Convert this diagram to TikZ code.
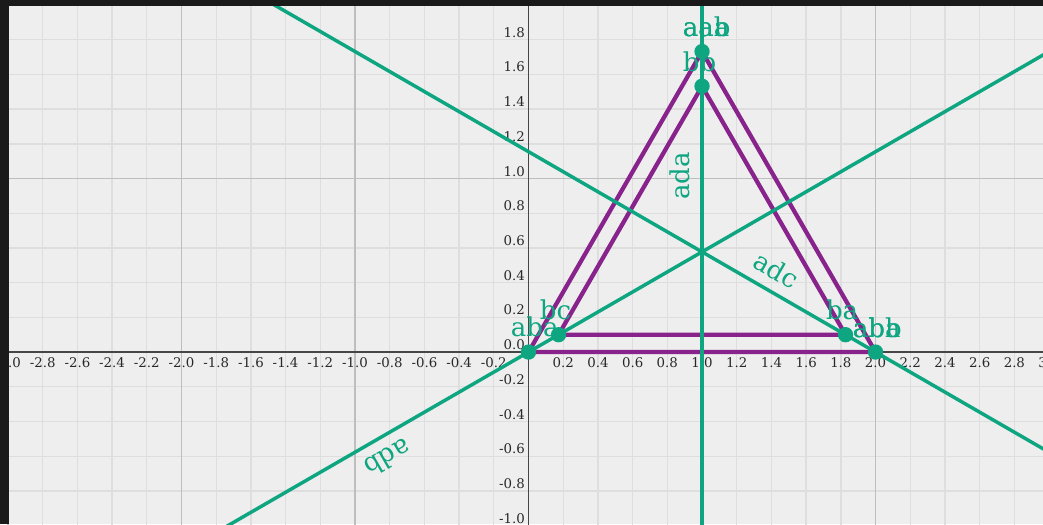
\documentclass[tikz,border=0pt]{standalone}
\usepackage{fontspec}
\setmainfont{DejaVu Serif}
\usetikzlibrary{calc}
\definecolor{bg}{RGB}{238,238,238}
\definecolor{minorgrid}{RGB}{222,222,222}
\definecolor{majorgrid}{RGB}{190,190,190}
\definecolor{axiscol}{RGB}{70,70,70}
\definecolor{gr}{RGB}{14,166,128}
\definecolor{pu}{RGB}{137,35,140}
\definecolor{framecol}{RGB}{26,26,26}
\definecolor{ticktxt}{RGB}{40,40,40}
\begin{document}
\begin{tikzpicture}[x=130.125pt,y=130.125pt,
  ticklab/.style={font=\fontsize{10}{12}\selectfont, text=ticktxt, inner sep=0pt},
  lab/.style={font=\fontsize{19.5}{21}\selectfont, text=gr, inner sep=0pt},
  seg/.style={draw=pu, line width=3.2pt, line cap=round, line join=round},
  gline/.style={draw=gr, line width=2.6pt},
  pt/.style={circle, fill=gr, inner sep=0pt, minimum size=11.5pt},
]
\useasboundingbox (-3.046,-0.991) rectangle (2.965,2.029);
\begin{scope}
\clip (-3.046,-0.991) rectangle (2.965,2.029);
\fill[bg] (-3.046,-0.991) rectangle (2.965,2.029);
% minor grid
\foreach \i in {-16,...,15} \draw[minorgrid, line width=1pt] (\i/5,-1.1) -- (\i/5,2.1);
\foreach \j in {-5,...,10} \draw[minorgrid, line width=1pt] (-3.1,\j/5) -- (3.1,\j/5);
% major grid
\foreach \i in {-3,...,3} \draw[majorgrid, line width=1.1pt] (\i,-1.1) -- (\i,2.1);
\foreach \j in {-1,...,2} \draw[majorgrid, line width=1.1pt] (-3.1,\j) -- (3.1,\j);
% axes
\draw[axiscol, line width=1.1pt] (-3.1,0) -- (3.1,0);
\draw[axiscol, line width=1pt] (0,-1.1) -- (0,2.1);
% x tick labels
\foreach \v in {-3.0,-2.8,-2.6,-2.4,-2.2,-2.0,-1.8,-1.6,-1.4,-1.2,-1.0,-0.8,-0.6,-0.4,-0.2,0.2,0.4,0.6,0.8,1.0,1.2,1.4,1.6,1.8,2.0,2.2,2.4,2.6,2.8,3.0}
  \node[ticklab] at (\v,-0.06) {\v};
% y tick labels
\foreach \v in {-1.0,-0.8,-0.6,-0.4,-0.2,0.0,0.2,0.4,0.6,0.8,1.0,1.2,1.4,1.6,1.8}
  \node[ticklab, anchor=east] at (-0.02,\v+0.042) {\v};

% geometry
\coordinate (A) at (0,0);
\coordinate (B) at (2,0);
\coordinate (C) at (1,1.7320508);
\coordinate (G) at (1,0.5773503);
\coordinate (D) at (0.1732051,0.1);
\coordinate (E) at (1.8267949,0.1);
\coordinate (F) at (1,1.5320508);

% purple triangles
\draw[seg] (A) -- (B) -- (C) -- cycle;
\draw[seg] (D) -- (E) -- (F) -- cycle;

% green lines (bisectors)
\draw[gline] ($(G)!-8!(C)$) -- ($(G)!8!(C)$);
\draw[gline] ($(G)!-8!(A)$) -- ($(G)!8!(A)$);
\draw[gline] ($(G)!-8!(B)$) -- ($(G)!8!(B)$);

% line labels
\node[lab, rotate=90] (lada) at (0.873,1.014) {ada};
\node[lab, rotate=-30] (ladc) at (1.428,0.472) {adc};
\node[lab, rotate=210] (ladb) at (-0.810,-0.611) {adb};

% points
\node[pt] (pA) at (A) {};
\node[pt] (pB) at (B) {};
\node[pt] (pC) at (C) {};
\node[pt] (pD) at (D) {};
\node[pt] (pE) at (E) {};
\node[pt] (pF) at (F) {};

% point labels
\node[lab, anchor=base west] (lC1) at (0.888,1.819) {aaa};
\node[lab, anchor=base west] (lC2) at (0.888,1.819) {aab};
\node[lab, anchor=base west] (lF) at (0.888,1.617) {bb};
\node[lab, anchor=base west] (lA) at (-0.103,0.090) {aba};
\node[lab, anchor=base west] (lD) at (0.064,0.186) {bc};
\node[lab, anchor=base west] (lE) at (1.713,0.190) {ba};
\node[lab, anchor=base west] (lB1) at (1.868,0.086) {aba};
\node[lab, anchor=base west] (lB2) at (1.868,0.086) {abb};
\end{scope}
% dark frame
\fill[framecol] (-3.046,1.994) rectangle (2.965,2.029);
\fill[framecol] (-3.046,-0.991) rectangle (-2.994,2.029);
\end{tikzpicture}
\end{document}
